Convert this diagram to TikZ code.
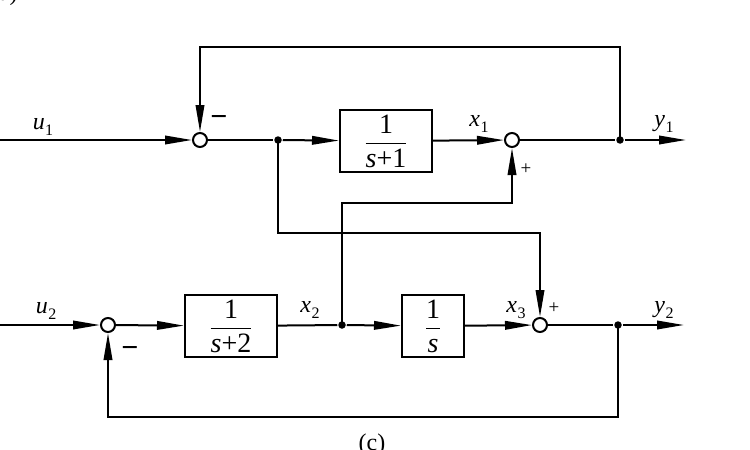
\documentclass[tikz,border=0pt]{standalone}
\usepackage{amsmath}
\usepackage{fontspec}
\setmainfont{Liberation Serif}
\usetikzlibrary{arrows.meta}
\newcommand{\lab}[2]{\textit{#1}\kern0.5pt\raisebox{-0.25em}{\fontsize{16}{17}\selectfont #2}}
\newcommand{\tf}[2]{$\dfrac{\text{#1}}{\text{#2}}$}
\begin{document}
\begin{tikzpicture}[x=1pt,y=-1pt,line width=2pt,
  >={Triangle[length=27pt,width=8.5pt]},
  every node/.style={font=\fontsize{24}{26}\selectfont},
  sumj/.style={circle,draw,fill=white,minimum size=14pt,inner sep=0pt,line width=2pt},
  blk/.style={draw,minimum height=62pt,inner sep=0pt,line width=2pt,font=\fontsize{28}{30}\selectfont},
  jdot/.style={circle,fill,minimum size=7.5pt,inner sep=0pt},
  sig/.style={inner sep=0pt},
  minus/.style={inner sep=0pt,font=\fontsize{30}{32}\selectfont\bfseries}]
\useasboundingbox (0,0) rectangle (750,450);
% junctions
\node[sumj] (s1) at (200,140) {};
\node[sumj] (s2) at (512,140) {};
\node[sumj] (s3) at (540,325) {};
\node[sumj] (s4) at (108,325) {};
% blocks
\node[blk,minimum width=92pt] (b1) at (386,141) {\tf{1}{\textit{s}+1}};
\node[blk,minimum width=92pt] (b2) at (231,326) {\tf{1}{\textit{s}+2}};
\node[blk,minimum width=62pt] (b3) at (433,326) {\tf{1}{\textit{s}}};
% branch points
\node[jdot] (d1) at (278,140) {};
\node[jdot] (d2) at (620,140) {};
\node[jdot] (d3) at (342,325) {};
\node[jdot] (d4) at (618,325) {};
% free ends
\coordinate (in1) at (0,140);
\coordinate (out1) at (686,140);
\coordinate (in2) at (0,325);
\coordinate (out2) at (684,325);
\coordinate (top) at (0,47);
\coordinate (m1) at (0,203);
\coordinate (m2) at (0,233);
\coordinate (bot) at (0,417);
% connectors
\draw[->] (in1) -- (s1);
\draw (s1) -- (d1);
\draw[->] (d1) -- (b1);
\draw[->] (b1) -- (s2);
\draw (s2) -- (d2);
\draw[->] (d2) -- (out1);
\draw[->] (d2.center) -- (d2.center |- top) -| (s1.north);
\draw[->] (d3.center) -- (d3.center |- m1) -| (s2.south);
\draw[->] (d1.center) -- (d1.center |- m2) -| (s3.north);
\draw[->] (in2) -- (s4);
\draw[->] (s4) -- (b2);
\draw (b2) -- (d3);
\draw[->] (d3) -- (b3);
\draw[->] (b3) -- (s3);
\draw (s3) -- (d4);
\draw[->] (d4) -- (out2);
\draw[->] (d4.center) -- (d4.center |- bot) -| (s4.south);
% signal labels
\node[sig] (lu1) at (43,127) {\lab{u}{1}};
\node[sig] (lx1) at (479,124) {\lab{x}{1}};
\node[sig] (ly1) at (664,124) {\lab{y}{1}};
\node[sig] (lu2) at (46,311) {\lab{u}{2}};
\node[sig] (lx2) at (310,310) {\lab{x}{2}};
\node[sig] (lx3) at (516,310) {\lab{x}{3}};
\node[sig] (ly2) at (664,310) {\lab{y}{2}};
% signs
\node[minus] (g1) at (219,121) {−};
\node[sig,font=\fontsize{19}{20}\selectfont] (g2) at (526,169) {+};
\node[sig,font=\fontsize{19}{20}\selectfont] (g3) at (554,308) {+};
\node[minus] (g4) at (130,352) {−};
% captions
\node[sig] (cap) at (372,445) {(c)};
\node[sig,anchor=south west] (cap0) at (-2,7) {a)};
\end{tikzpicture}
\end{document}
